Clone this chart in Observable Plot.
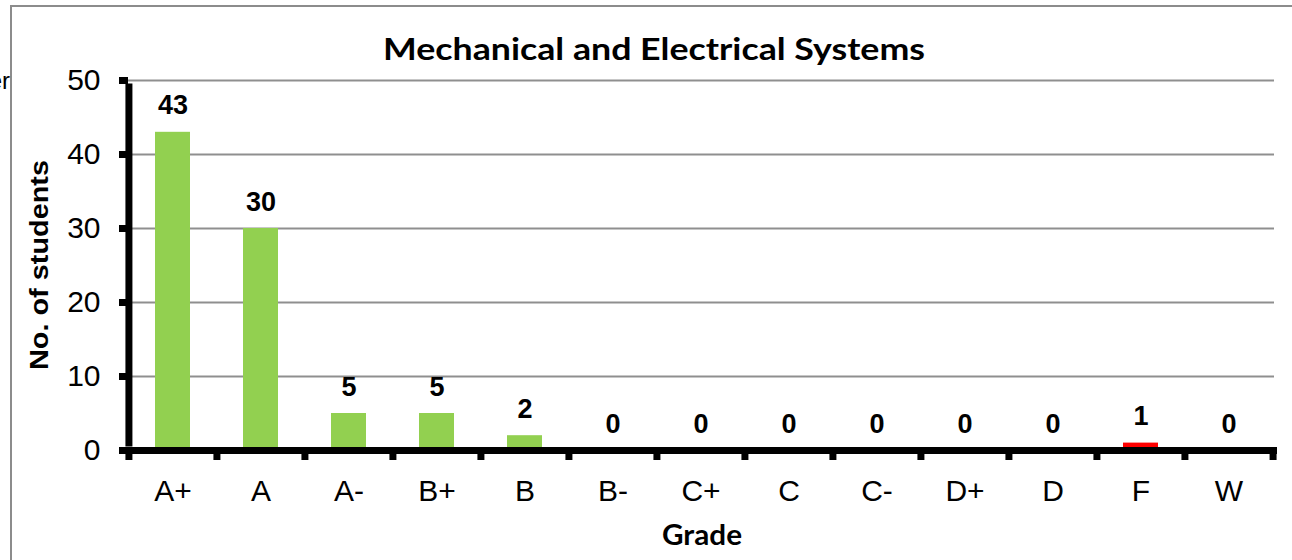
<!DOCTYPE html>
<html><head><meta charset="utf-8">
<script src="https://cdn.jsdelivr.net/npm/d3@7"></script>
<script src="https://cdn.jsdelivr.net/npm/@observablehq/plot@0.6"></script>
<style>
body{margin:0;background:#fff;}
#wrap{position:relative;width:1292px;height:560px;overflow:hidden;background:#fff;}
#border{position:absolute;left:10px;top:5px;width:1300px;height:600px;border:2px solid #8c8c8c;box-sizing:border-box;}
#chart{position:absolute;left:0;top:0;}
</style>
</head><body>
<div id="wrap"><div id="border"></div><div id="chart"></div></div>
<script>
const grades = ["A+","A","A-","B+","B","B-","C+","C","C-","D+","D","F","W"];
const counts = [43,30,5,5,2,0,0,0,0,0,0,1,0];
const yTicks = [0,10,20,30,40,50];
const titleText = "Mechanical and Electrical Systems";
const xTitle = "Grade";
const yTitle = "No. of students";

const data = grades.map((g,i)=>({grade:g,count:counts[i]}));
const W = 1292, H = 560, mL = 128, mR = 18, mT = 80, mB = 110;
const step = (W - mL - mR) / grades.length;
const green = "#92D050", red = "#FF0000";

const plot = Plot.plot({
  width: W, height: H,
  marginLeft: mL, marginRight: mR, marginTop: mT, marginBottom: mB,
  style: {background: "transparent", fontFamily: "'Liberation Sans', Arial, sans-serif", color: "#000"},
  x: {domain: grades, paddingInner: 0.6, paddingOuter: 0.3, label: null},
  y: {domain: [0,50], label: null},
  marks: [
    Plot.gridY(yTicks.filter(t=>t>0), {stroke: "#8f8f8f", strokeOpacity: 1, strokeWidth: 2}),
    Plot.barY(data, {x: "grade", y: "count", fill: d => d.grade === "F" ? red : green}),
    Plot.axisY({ticks: yTicks, tickSize: 9, tickPadding: 19, stroke: "#000", strokeWidth: 7, fontSize: 30, label: null}),
    Plot.axisX({tickSize: 0, tickPadding: 29, fontSize: 30, label: null}),
    Plot.ruleY([0], {stroke: "#000", strokeWidth: 7, insetLeft: -3.5, insetRight: -3}),
    Plot.ruleX([grades[0]], {dx: -step/2, y1: 0, y2: 50, stroke: "#000", strokeWidth: 7, insetTop: -3.5, insetBottom: -3.5}),
    Plot.ruleX(grades, {x: d=>d, dx: -step/2, y1: 0, y2: 0, insetBottom: -10, stroke: "#000", strokeWidth: 7}),
    Plot.ruleX([grades[grades.length-1]], {dx: step/2, y1: 0, y2: 0, insetBottom: -10, stroke: "#000", strokeWidth: 7}),
    Plot.text(data, {x: "grade", y: "count", text: d => String(d.count), lineAnchor: "bottom", dy: -18, fontSize: 27, fontWeight: "bold", fill: "#000"})
  ]
});
document.getElementById("chart").appendChild(plot);
const svg = d3.select(plot);
svg.append("text").attr("x", 654).attr("y", 60).attr("text-anchor","middle")
  .attr("textLength", 542).attr("lengthAdjust", "spacingAndGlyphs")
  .style("font-family","Lato, sans-serif").style("font-weight","bold").style("font-size","31px").attr("fill","#000").text(titleText);
svg.append("text").attr("x", 702).attr("y", 545).attr("text-anchor","middle")
  .attr("textLength", 80).attr("lengthAdjust", "spacingAndGlyphs")
  .style("font-family","Lato, sans-serif").style("font-weight","bold").style("font-size","29px").attr("fill","#000").text(xTitle);
svg.append("text").attr("transform","translate(48,265) rotate(-90)").attr("text-anchor","middle")
  .attr("textLength", 210).attr("lengthAdjust", "spacingAndGlyphs")
  .style("font-family","'Liberation Sans', Arial, sans-serif").style("font-weight","bold").style("font-size","26px").attr("fill","#000").text(yTitle);
svg.append("text").attr("x", 10).attr("y", 89).attr("text-anchor","end")
  .style("font-family","'Liberation Sans', Arial, sans-serif").style("font-size","24px").attr("fill","#000").text("er");
</script>
</body></html>
